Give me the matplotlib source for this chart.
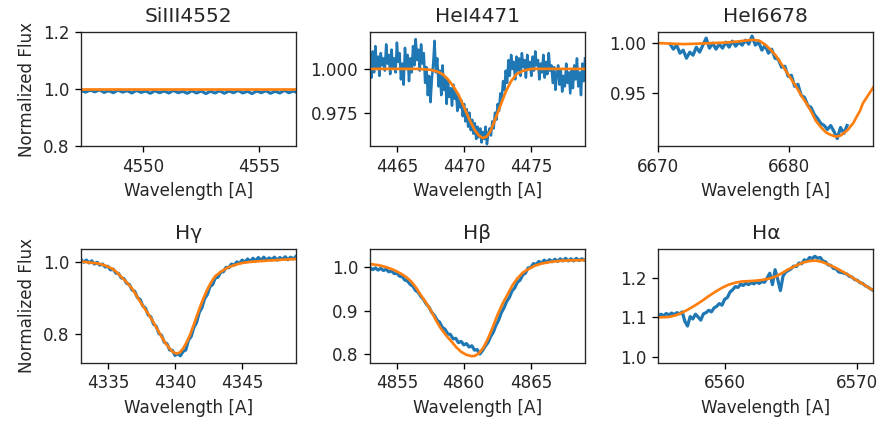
import matplotlib
matplotlib.use("Agg")
import matplotlib.pyplot as plt

# ---------------- data ----------------
titles = ["SiIII4552", "HeI4471", "HeI6678", "Hγ", "Hβ", "Hα"]
xlabel = "Wavelength [A]"
ylabel = "Normalized Flux"

# SiIII 4552
si_obs_x = [4547.3, 4547.5, 4547.7, 4547.9, 4548.1, 4548.3, 4548.5, 4548.7, 4548.9, 4549.1,
            4549.3, 4549.5, 4549.7, 4549.9, 4550.1, 4550.3, 4550.5, 4550.7, 4550.9, 4551.1,
            4551.3, 4551.5, 4551.7, 4551.9, 4552.1, 4552.3, 4552.5, 4552.7, 4552.9, 4553.1,
            4553.3, 4553.5, 4553.7, 4553.9, 4554.1, 4554.3, 4554.5, 4554.7, 4554.9, 4555.1,
            4555.3, 4555.5, 4555.7, 4555.9, 4556.1, 4556.3, 4556.5, 4556.6]
si_obs_y = [0.995, 0.989, 0.996, 0.990, 0.997, 0.988, 0.994, 0.987, 0.996, 0.989,
            0.994, 0.986, 0.995, 0.988, 0.993, 0.985, 0.994, 0.987, 0.993, 0.986,
            0.995, 0.987, 0.992, 0.985, 0.994, 0.986, 0.993, 0.984, 0.992, 0.986,
            0.994, 0.985, 0.993, 0.987, 0.995, 0.986, 0.992, 0.984, 0.993, 0.987,
            0.994, 0.985, 0.992, 0.986, 0.995, 0.987, 0.993, 0.989]
si_mod_x = [4547.3, 4552.0, 4556.6]
si_mod_y = [1.001, 1.001, 1.001]

# HeI 4471
he1_obs_x = [4463.0, 4463.1, 4463.2, 4463.3, 4463.4, 4463.5, 4463.6, 4463.7, 4463.8, 4463.9,
             4464.0, 4464.1, 4464.2, 4464.3, 4464.4, 4464.5, 4464.6, 4464.7, 4464.8, 4464.9,
             4465.0, 4465.1, 4465.2, 4465.3, 4465.4, 4465.5, 4465.6, 4465.7, 4465.8, 4465.9,
             4466.0, 4466.1, 4466.2, 4466.3, 4466.4, 4466.5, 4466.6, 4466.7, 4466.8, 4466.9,
             4467.0, 4467.1, 4467.2, 4467.3, 4467.4, 4467.5, 4467.6, 4467.7, 4467.8, 4467.9,
             4468.0, 4468.1, 4468.2, 4468.3, 4468.4, 4468.5, 4468.6, 4468.7, 4468.8, 4468.9,
             4469.0, 4469.1, 4469.2, 4469.3, 4469.4, 4469.5, 4469.6, 4469.7, 4469.8, 4469.9,
             4470.0, 4470.1, 4470.2, 4470.3, 4470.4, 4470.5, 4470.6, 4470.7, 4470.8, 4470.9,
             4471.0, 4471.1, 4471.2, 4471.3, 4471.4, 4471.5, 4471.6, 4471.7, 4471.8, 4471.9,
             4472.0, 4472.1, 4472.2, 4472.3, 4472.4, 4472.5, 4472.6, 4472.7, 4472.8, 4472.9,
             4473.0, 4473.1, 4473.2, 4473.3, 4473.4, 4473.5, 4473.6, 4473.7, 4473.8, 4473.9,
             4474.0, 4474.1, 4474.2, 4474.3, 4474.4, 4474.5, 4474.6, 4474.7, 4474.8, 4474.9,
             4475.0, 4475.1, 4475.2, 4475.3, 4475.4, 4475.5, 4475.6, 4475.7, 4475.8, 4475.9,
             4476.0, 4476.1, 4476.2, 4476.3, 4476.4, 4476.5, 4476.6, 4476.7, 4476.8, 4476.9,
             4477.0, 4477.1, 4477.2, 4477.3, 4477.4, 4477.5, 4477.6, 4477.7, 4477.8, 4477.9,
             4478.0, 4478.1, 4478.2, 4478.3, 4478.4, 4478.5, 4478.6, 4478.7, 4478.8, 4478.9,
             4479.0]
he1_obs_y = [1.004, 0.995, 1.010, 0.998, 1.013, 1.000, 1.007, 0.996, 1.009, 1.002,
             1.006, 0.999, 1.014, 1.003, 1.008, 0.997, 1.011, 1.001, 1.006, 0.998,
             1.015, 1.004, 1.009, 0.994, 1.003, 0.991, 1.012, 1.000, 1.008, 0.993,
             1.006, 0.998, 1.013, 1.002, 1.017, 1.005, 1.011, 0.999, 1.014, 1.003,
             1.009, 0.992, 1.001, 0.985, 0.996, 0.981, 0.994, 1.003, 1.016, 0.998,
             1.006, 0.990, 0.999, 0.985, 1.002, 0.988, 0.995, 0.980, 0.993, 0.984,
             0.989, 0.979, 0.991, 0.983, 0.987, 0.976, 0.984, 0.978, 0.982, 0.973,
             0.980, 0.970, 0.977, 0.967, 0.975, 0.965, 0.971, 0.963, 0.969, 0.960,
             0.967, 0.961, 0.966, 0.958, 0.964, 0.960, 0.967, 0.957, 0.963, 0.966,
             0.962, 0.970, 0.966, 0.975, 0.971, 0.980, 0.976, 0.986, 0.983, 0.993,
             0.988, 0.999, 0.992, 1.005, 0.996, 1.008, 1.000, 1.004, 0.994, 1.007,
             0.999, 1.006, 0.996, 1.009, 1.001, 1.005, 0.995, 1.008, 1.000, 1.004,
             0.996, 1.007, 0.999, 1.010, 1.002, 1.005, 0.994, 1.003, 0.998, 1.008,
             0.995, 1.004, 0.997, 1.009, 0.999, 1.002, 0.992, 1.001, 0.988, 0.997,
             1.002, 0.991, 0.999, 0.987, 0.996, 0.990, 1.003, 0.992, 0.998, 0.986,
             0.999, 0.989, 1.002, 0.994, 1.006, 0.990, 0.998, 0.985, 1.003, 0.993,
             1.006]
he1_mod_x = [4463.0, 4466.5, 4467.5, 4468.0, 4468.4, 4468.8, 4469.2, 4469.6, 4470.0, 4470.4,
             4470.8, 4471.1, 4471.4, 4471.7, 4472.0, 4472.3, 4472.7, 4473.1, 4473.5, 4473.9,
             4474.4, 4475.0, 4479.0]
he1_mod_y = [1.000, 1.000, 0.9995, 0.9985, 0.997, 0.994, 0.990, 0.985, 0.978, 0.971,
             0.965, 0.962, 0.9605, 0.9615, 0.965, 0.971, 0.979, 0.987, 0.993, 0.997,
             0.999, 1.000, 1.000]

# HeI 6678
he2_obs_x = [6670.90, 6671.15, 6671.40, 6671.65, 6671.90, 6672.15, 6672.40, 6672.65, 6672.90, 6673.15,
             6673.40, 6673.65, 6673.90, 6674.15, 6674.40, 6674.65, 6674.90, 6675.15, 6675.40, 6675.65,
             6675.90, 6676.15, 6676.40, 6676.65, 6676.90, 6677.15, 6677.40, 6677.65, 6677.90, 6678.15,
             6678.40, 6678.65, 6678.90, 6679.15, 6679.40, 6679.65, 6679.90, 6680.15, 6680.40, 6680.65,
             6680.90, 6681.15, 6681.40, 6681.65, 6681.90, 6682.15, 6682.40, 6682.65, 6682.90, 6683.15,
             6683.40, 6683.65, 6683.90, 6684.15, 6684.40]
he2_obs_y = [0.999, 0.994, 0.998, 0.990, 0.993, 0.985, 0.991, 0.988, 0.996, 0.991,
             0.998, 1.005, 0.995, 1.000, 0.994, 0.999, 0.995, 1.001, 0.996, 1.002,
             0.997, 1.001, 0.998, 1.003, 0.999, 1.007, 0.998, 1.001, 0.993, 0.998,
             0.990, 0.994, 0.985, 0.984, 0.976, 0.977, 0.967, 0.968, 0.957, 0.959,
             0.948, 0.946, 0.938, 0.936, 0.929, 0.925, 0.920, 0.918, 0.914, 0.918,
             0.912, 0.905, 0.916, 0.910, 0.918]
he2_mod_x = [6670.0, 6671.0, 6672.0, 6673.0, 6674.0, 6675.0, 6676.0, 6676.6, 6677.2, 6677.7,
             6678.2, 6678.6, 6679.0, 6679.4, 6679.7, 6680.1, 6680.5, 6680.9, 6681.3, 6681.7,
             6682.0, 6682.3, 6682.5, 6682.8, 6683.1, 6683.4, 6683.6, 6683.9, 6684.1, 6684.4,
             6684.6, 6684.9, 6685.1, 6685.4, 6685.6, 6686.0, 6686.4]
he2_mod_y = [1.000, 0.9995, 0.9990, 0.9995, 1.0000, 1.0005, 1.0015, 1.0025, 1.0033, 1.0025,
             0.998, 0.993, 0.987, 0.979, 0.973, 0.965, 0.957, 0.948, 0.940, 0.931,
             0.923, 0.918, 0.915, 0.911, 0.909, 0.9075, 0.907, 0.908, 0.910, 0.913,
             0.916, 0.921, 0.926, 0.933, 0.940, 0.948, 0.956]

# H gamma
hg_obs_x = [4333.0, 4333.2, 4333.4, 4333.6, 4333.8, 4334.0, 4334.2, 4334.4, 4334.6, 4334.8,
            4335.0, 4335.2, 4335.4, 4335.6, 4335.8, 4336.0, 4336.2, 4336.4, 4336.6, 4336.8,
            4337.0, 4337.2, 4337.4, 4337.6, 4337.8, 4338.0, 4338.2, 4338.4, 4338.6, 4338.8,
            4339.0, 4339.2, 4339.4, 4339.6, 4339.8, 4340.0, 4340.2, 4340.4, 4340.6, 4340.8,
            4341.0, 4341.2, 4341.4, 4341.6, 4341.8, 4342.0, 4342.2, 4342.4, 4342.6, 4342.8,
            4343.0, 4343.2, 4343.4, 4343.6, 4343.8, 4344.0, 4344.2, 4344.4, 4344.6, 4344.8,
            4345.0, 4345.2, 4345.4, 4345.6, 4345.8, 4346.0, 4346.2, 4346.4, 4346.6, 4346.8,
            4347.0, 4347.2, 4347.4, 4347.6, 4347.8, 4348.0, 4348.2, 4348.4, 4348.6, 4348.8,
            4349.0]
hg_obs_y = [1.006, 0.998, 1.004, 0.996, 1.002, 0.993, 0.998, 0.990, 0.993, 0.985,
            0.987, 0.977, 0.979, 0.968, 0.967, 0.955, 0.953, 0.940, 0.937, 0.922,
            0.918, 0.901, 0.896, 0.878, 0.872, 0.853, 0.848, 0.828, 0.822, 0.802,
            0.797, 0.778, 0.774, 0.757, 0.756, 0.742, 0.747, 0.741, 0.753, 0.757,
            0.784, 0.794, 0.819, 0.832, 0.860, 0.873, 0.898, 0.909, 0.931, 0.937,
            0.955, 0.957, 0.971, 0.972, 0.984, 0.983, 0.993, 0.990, 0.999, 0.995,
            1.004, 0.998, 1.007, 1.000, 1.009, 1.002, 1.011, 1.003, 1.012, 1.004,
            1.010, 1.005, 1.012, 1.004, 1.011, 1.006, 1.013, 1.005, 1.012, 1.007,
            1.014]
hg_mod_x = [4333.0, 4334.3, 4334.8, 4335.3, 4335.65, 4336.0, 4336.4, 4336.8, 4337.15, 4337.5,
            4337.9, 4338.3, 4338.65, 4339.0, 4339.3, 4339.6, 4339.85, 4340.1, 4340.35, 4340.6,
            4340.85, 4341.1, 4341.35, 4341.6, 4341.85, 4342.1, 4342.4, 4342.7, 4343.0, 4343.4,
            4343.9, 4344.4, 4345.0, 4345.6, 4346.3, 4347.1, 4348.0, 4349.0]
hg_mod_y = [1.000, 0.9945, 0.989, 0.981, 0.971, 0.958, 0.943, 0.926, 0.905, 0.884,
            0.862, 0.839, 0.816, 0.793, 0.775, 0.761, 0.751, 0.747, 0.750, 0.761,
            0.777, 0.797, 0.822, 0.848, 0.874, 0.898, 0.923, 0.944, 0.960, 0.9716,
            0.983, 0.990, 0.996, 0.999, 1.001, 1.003, 1.005, 1.007]

# H beta
hb_obs_x = [4853.0, 4853.2, 4853.4, 4853.6, 4853.8, 4854.0, 4854.2, 4854.4, 4854.6, 4854.8,
            4855.0, 4855.2, 4855.4, 4855.6, 4855.8, 4856.0, 4856.2, 4856.4, 4856.6, 4856.8,
            4857.0, 4857.2, 4857.4, 4857.6, 4857.8, 4858.0, 4858.2, 4858.4, 4858.6, 4858.8,
            4859.0, 4859.2, 4859.4, 4859.6, 4859.8, 4860.0, 4860.2, 4860.4, 4860.6, 4860.8,
            4861.0, 4861.2, 4861.4, 4861.6, 4861.8, 4862.0, 4862.2, 4862.4, 4862.6, 4862.8,
            4863.0, 4863.2, 4863.4, 4863.6, 4863.8, 4864.0, 4864.2, 4864.4, 4864.6, 4864.8,
            4865.0, 4865.2, 4865.4, 4865.6, 4865.8, 4866.0, 4866.2, 4866.4, 4866.6, 4866.8,
            4867.0, 4867.2, 4867.4, 4867.6, 4867.8, 4868.0, 4868.2, 4868.4, 4868.6, 4868.8,
            4869.0]
hb_obs_y = [0.999, 0.994, 0.998, 0.993, 0.997, 0.992, 0.995, 0.989, 0.991, 0.985,
            0.986, 0.979, 0.978, 0.970, 0.968, 0.960, 0.956, 0.946, 0.942, 0.932,
            0.925, 0.915, 0.908, 0.896, 0.889, 0.878, 0.873, 0.861, 0.857, 0.846,
            0.845, 0.835, 0.836, 0.826, 0.829, 0.821, 0.824, 0.816, 0.819, 0.809,
            0.810, 0.800, 0.808, 0.818, 0.826, 0.840, 0.850, 0.866, 0.878, 0.895,
            0.906, 0.921, 0.930, 0.945, 0.952, 0.965, 0.970, 0.982, 0.986, 0.998,
            0.999, 1.008, 1.006, 1.013, 1.009, 1.016, 1.011, 1.017, 1.012, 1.018,
            1.013, 1.019, 1.014, 1.020, 1.014, 1.019, 1.014, 1.020, 1.015, 1.019,
            1.016]
hb_mod_x = [4853.0, 4853.7, 4854.3, 4854.8, 4855.3, 4855.7, 4856.1, 4856.45, 4856.8, 4857.2,
            4857.6, 4857.95, 4858.3, 4858.7, 4859.1, 4859.45, 4859.8, 4860.2, 4860.6, 4860.85,
            4861.1, 4861.45, 4861.8, 4862.15, 4862.5, 4862.9, 4863.3, 4863.65, 4864.0, 4864.4,
            4864.8, 4865.3, 4865.8, 4866.5, 4867.3, 4868.2, 4869.0]
hb_mod_y = [1.007, 1.004, 0.999, 0.993, 0.985, 0.977, 0.966, 0.952, 0.935, 0.917,
            0.897, 0.876, 0.858, 0.842, 0.828, 0.815, 0.805, 0.798, 0.795, 0.796,
            0.801, 0.814, 0.835, 0.861, 0.889, 0.916, 0.939, 0.959, 0.974, 0.987,
            0.995, 1.003, 1.008, 1.012, 1.0146, 1.0155, 1.016]

# H alpha
ha_obs_x = [6555.0, 6555.2, 6555.4, 6555.6, 6555.8, 6556.0, 6556.2, 6556.4, 6556.6, 6556.8,
            6557.0, 6557.2, 6557.4, 6557.6, 6557.8, 6558.0, 6558.2, 6558.4, 6558.6, 6558.8,
            6559.0, 6559.2, 6559.4, 6559.6, 6559.8, 6560.0, 6560.2, 6560.4, 6560.6, 6560.8,
            6561.0, 6561.2, 6561.4, 6561.6, 6561.8, 6562.0, 6562.2, 6562.4, 6562.6, 6562.8,
            6563.0, 6563.2, 6563.4, 6563.6, 6563.8, 6564.0, 6564.2, 6564.4, 6564.6, 6564.8,
            6565.0, 6565.2, 6565.4, 6565.6, 6565.8, 6566.0, 6566.2, 6566.4, 6566.6, 6566.8,
            6567.0, 6567.2, 6567.4, 6567.6, 6567.8, 6568.0, 6568.2, 6568.4, 6568.6, 6568.8,
            6569.0, 6569.2, 6569.4, 6569.6, 6569.8, 6570.0, 6570.2, 6570.4, 6570.6, 6570.8,
            6571.0, 6571.2]
ha_obs_y = [1.103, 1.108, 1.104, 1.110, 1.106, 1.111, 1.107, 1.112, 1.109, 1.114,
            1.090, 1.078, 1.102, 1.096, 1.108, 1.101, 1.093, 1.109, 1.112, 1.118,
            1.114, 1.124, 1.128, 1.135, 1.131, 1.146, 1.150, 1.164, 1.170, 1.178,
            1.176, 1.184, 1.181, 1.187, 1.183, 1.188, 1.185, 1.190, 1.186, 1.191,
            1.189, 1.200, 1.212, 1.183, 1.221, 1.196, 1.168, 1.205, 1.215, 1.219,
            1.223, 1.230, 1.229, 1.238, 1.236, 1.246, 1.243, 1.252, 1.249, 1.255,
            1.250, 1.252, 1.243, 1.241, 1.233, 1.232, 1.224, 1.223, 1.215, 1.214,
            1.212, 1.210, 1.204, 1.202, 1.196, 1.194, 1.188, 1.186, 1.180, 1.177,
            1.172, 1.168]
ha_mod_x = [6555.0, 6555.8, 6556.3, 6556.8, 6557.3, 6557.8, 6558.3, 6558.8, 6559.3, 6559.8,
            6560.3, 6560.8, 6561.3, 6561.8, 6562.3, 6562.8, 6563.3, 6563.8, 6564.3, 6564.8,
            6565.35, 6565.9, 6566.4, 6566.9, 6567.4, 6567.9, 6568.4, 6568.9, 6569.4, 6569.9,
            6570.4, 6570.9, 6571.2]
ha_mod_y = [1.100, 1.101, 1.105, 1.112, 1.121, 1.131, 1.142, 1.154, 1.165, 1.175,
            1.183, 1.188, 1.191, 1.192, 1.193, 1.195, 1.198, 1.203, 1.212, 1.222,
            1.231, 1.239, 1.243, 1.244, 1.240, 1.233, 1.225, 1.216, 1.206, 1.195,
            1.185, 1.174, 1.169]

# axis ranges and tick labels
xlims = [(4547.3, 4556.6), (4463.0, 4479.0), (6670.0, 6686.4),
         (4333.0, 4349.0), (4853.0, 4869.05), (6555.0, 6571.2)]
ylims = [(0.8, 1.2), (0.956, 1.021), (0.8976, 1.011),
         (0.722, 1.035), (0.780, 1.042), (0.985, 1.274)]
xtick_labels = [["4550", "4555"], ["4465", "4470", "4475"], ["6670", "6680"],
                ["4335", "4340", "4345"], ["4855", "4860", "4865"], ["6560", "6570"]]
ytick_labels = [["0.8", "1.0", "1.2"], ["0.975", "1.000"], ["0.95", "1.00"],
                ["0.8", "1.0"], ["0.8", "0.9", "1.0"], ["1.0", "1.1", "1.2"]]

obs = [(si_obs_x, si_obs_y), (he1_obs_x, he1_obs_y), (he2_obs_x, he2_obs_y),
       (hg_obs_x, hg_obs_y), (hb_obs_x, hb_obs_y), (ha_obs_x, ha_obs_y)]
mod = [(si_mod_x, si_mod_y), (he1_mod_x, he1_mod_y), (he2_mod_x, he2_mod_y),
       (hg_mod_x, hg_mod_y), (hb_mod_x, hb_mod_y), (ha_mod_x, ha_mod_y)]
obs_lw = [1.8, 1.5, 1.9, 1.9, 1.9, 1.9]

# ---------------- figure ----------------
DPI = 121
plt.rcParams["text.color"] = "#262626"
plt.rcParams["axes.labelcolor"] = "#262626"
plt.rcParams["xtick.labelcolor"] = "#262626"
plt.rcParams["ytick.labelcolor"] = "#262626"
plt.rcParams["axes.edgecolor"] = "#262626"
fig = plt.figure(figsize=(884 / DPI, 425 / DPI), dpi=DPI)

lefts = [0.0916, 0.4186, 0.7447]
bottoms = [0.6565, 0.1466]
width, height = 0.2432, 0.268

for i in range(6):
    r, c = divmod(i, 3)
    ax = fig.add_axes([lefts[c], bottoms[r], width, height])
    ax.plot(obs[i][0], obs[i][1], color="#1f77b4", lw=obs_lw[i])
    ax.plot(mod[i][0], mod[i][1], color="#ff7f0e", lw=1.6)
    ax.set_xlim(*xlims[i])
    ax.set_ylim(*ylims[i])
    ax.set_xticks([float(t) for t in xtick_labels[i]])
    ax.set_xticklabels(xtick_labels[i])
    ax.set_yticks([float(t) for t in ytick_labels[i]])
    ax.set_yticklabels(ytick_labels[i])
    ax.set_title(titles[i])
    ax.set_xlabel(xlabel)
    if c == 0:
        ax.set_ylabel(ylabel)

fig.savefig("out.png", dpi=DPI)
